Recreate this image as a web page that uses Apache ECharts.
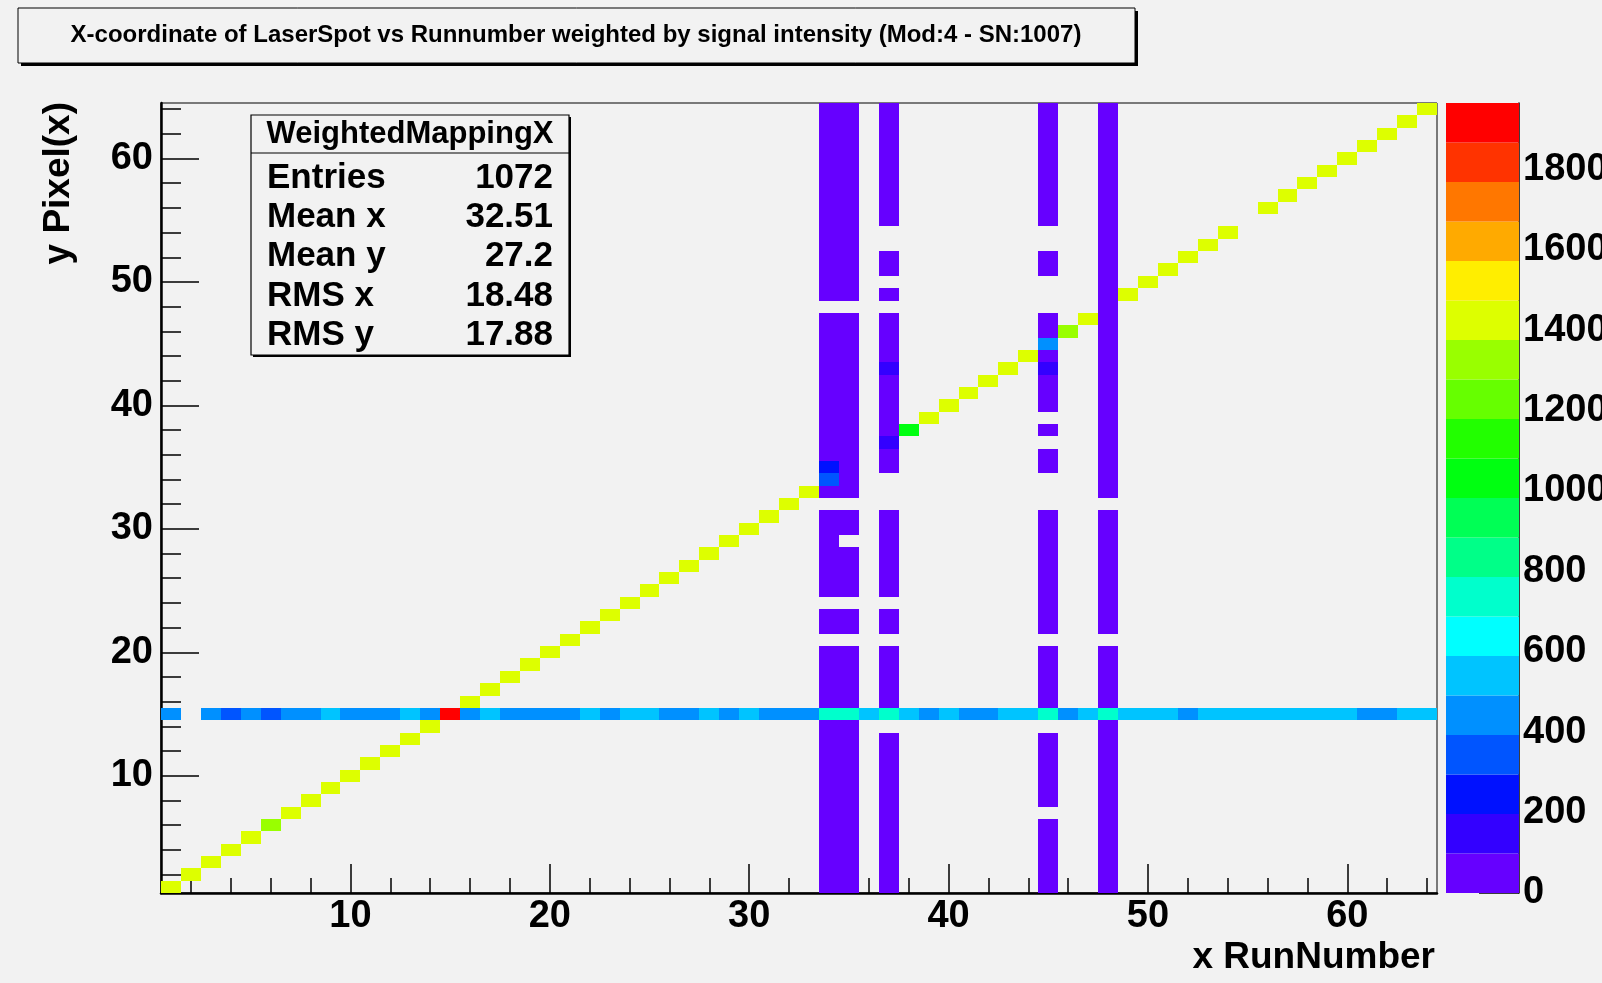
<!DOCTYPE html>
<html><head><meta charset="utf-8">
<script src="https://cdn.jsdelivr.net/npm/echarts@6/dist/echarts.min.js"></script>
<style>html,body{margin:0;padding:0;background:#f2f2f2;}#c{width:1602px;height:983px;}</style>
</head><body><div id="c"></div>
<script>
// ---- data ----
const xCategories = Array.from({length: 64}, (_, i) => String(i + 1)); // bin centres 1..64
const yCategories = Array.from({length: 64}, (_, i) => String(i + 1));
const xMajorTicks = [10, 20, 30, 40, 50, 60];
const yMajorTicks = [10, 20, 30, 40, 50, 60];
const zTicks = [0, 200, 400, 600, 800, 1000, 1200, 1400, 1600, 1800];
const zMax = 1965;

// diagonal cells (x = y), value per x = 1..64 (0 = empty / handled by columns)
const diagonal = [
  1420,1420,1420,1420,1420,1330,1420,1420,1420,1420,1420,1420,1420,1420,1960,1420,
  1420,1420,1420,1420,1420,1420,1420,1420,1420,1420,1420,1420,1420,1420,1420,1420,
  1420,0,0,0,0,1030,1420,1420,1420,1420,1420,1420,0,1330,1420,0,
  1420,1420,1420,1420,1420,1420,0,1420,1420,1420,1420,1420,1420,1420,1420,1420
];
// horizontal line at y = 15, value per x = 1..64
const row15 = [
  440,0,440,340,440,340,440,440,540,440,440,440,540,440,1960,440,
  540,440,440,440,440,540,440,540,540,440,440,540,440,540,440,440,
  440,730,730,540,730,540,440,540,440,440,540,540,730,440,540,730,
  540,540,540,440,540,540,540,540,540,540,540,540,440,440,540,540
];
// vertical columns, value per y = 1..64 (0 = empty)
const col34 = [
  40,40,40,40,40,40,40,40,40,40,40,40,40,40,730,40,
  40,40,40,40,0,40,40,0,40,40,40,40,40,40,40,0,
  40,340,200,40,40,40,40,40,40,40,40,40,40,40,40,0,
  40,40,40,40,40,40,40,40,40,40,40,40,40,40,40,40
];
const col35 = [
  40,40,40,40,40,40,40,40,40,40,40,40,40,40,730,40,
  40,40,40,40,0,40,40,0,40,40,40,40,0,40,40,0,
  40,40,40,40,40,40,40,40,40,40,40,40,40,40,40,0,
  40,40,40,40,40,40,40,40,40,40,40,40,40,40,40,40
];
const col37 = [
  40,40,40,40,40,40,40,40,40,40,40,40,40,0,730,40,
  40,40,40,40,0,40,40,0,40,40,40,40,40,40,40,0,
  0,0,40,40,150,40,40,40,40,40,150,40,40,40,40,0,
  40,0,40,40,0,0,40,40,40,40,40,40,40,40,40,40
];
const col45 = [
  40,40,40,40,40,40,0,40,40,40,40,40,40,0,730,40,
  40,40,40,40,0,40,40,40,40,40,40,40,40,40,40,0,
  0,0,40,40,0,40,0,40,40,40,150,40,440,40,40,0,
  0,0,40,40,0,0,40,40,40,40,40,40,40,40,40,40
];
const col48 = [
  40,40,40,40,40,40,40,40,40,40,40,40,40,40,730,40,
  40,40,40,40,0,40,40,40,40,40,40,40,40,40,40,0,
  40,40,40,40,40,40,40,40,40,40,40,40,40,40,40,40,
  40,40,40,40,40,40,40,40,40,40,40,40,40,40,40,40
];
const columns = {34: col34, 35: col35, 37: col37, 45: col45, 48: col48};

const statsTitle = 'WeightedMappingX';
const statsLabels = ['Entries', 'Mean x', 'Mean y', 'RMS x', 'RMS y'];
const statsValues = ['1072', '32.51', '27.2', '18.48', '17.88'];
const chartTitle = 'X-coordinate of LaserSpot vs Runnumber weighted by signal intensity (Mod:4 - SN:1007)';
const xTitle = 'x RunNumber';
const yTitle = 'y Pixel(x)';

// ---- style ----
const palette = ['#6600ff','#3300ff','#0011ff','#0055ff','#0090ff','#00c4ff','#00ffff','#00ffcc','#00ff88','#00ff55',
                 '#00ff11','#22ff00','#66ff00','#99ff00','#ddff00','#ffee00','#ffaa00','#ff7700','#ff3300','#ff0000'];
const FONT = "'Liberation Sans', Arial, Helvetica, sans-serif";
const BG = '#f2f2f2';

// ---- build cells ----
const cells = {};
diagonal.forEach((v, i) => { if (v > 0) cells[(i + 1) + ',' + (i + 1)] = v; });
row15.forEach((v, i) => { if (v > 0) cells[(i + 1) + ',15'] = v; });
Object.keys(columns).forEach(x => {
  columns[x].forEach((v, j) => {
    const k = x + ',' + (j + 1);
    if (v > 0) cells[k] = v; else delete cells[k];
  });
});
const heatData = Object.keys(cells).map(k => {
  const [x, y] = k.split(',').map(Number);
  return [x - 1, y - 1, cells[k]];
});

const step = zMax / palette.length;
const pieces = palette.map((c, i) => (i === palette.length - 1)
  ? {gte: i * step, lte: zMax + 1, color: c}
  : {gte: i * step, lt: (i + 1) * step, color: c});
const bands = palette.map((c, i) => [0, i * step, (i + 1) * step]);

const tickStyle = {color: '#000', width: 1.5};
const labelStyle = {color: '#000', fontSize: 38, fontWeight: 'bold', fontFamily: FONT};

const chart = echarts.init(document.getElementById('c'), null, {renderer: 'canvas'});
chart.setOption({
  backgroundColor: BG,
  animation: false,
  grid: [
    {left: 161, top: 103, width: 1276, height: 790, show: true, borderColor: '#000', borderWidth: 1,
     backgroundColor: 'transparent', outerBoundsMode: 'none', containLabel: false},
    {left: 1446, top: 103, width: 73, height: 790, show: false, outerBoundsMode: 'none', containLabel: false}
  ],
  xAxis: [
    {type: 'category', gridIndex: 0, data: xCategories, position: 'bottom', boundaryGap: true,
     axisLine: {show: true, onZero: false, lineStyle: {color: '#000', width: 2.5}},
     axisTick: {show: true, inside: true, length: 29, alignWithLabel: true, lineStyle: tickStyle,
                interval: (i) => xMajorTicks.includes(i + 1)},
     axisLabel: Object.assign({margin: 5, interval: (i) => xMajorTicks.includes(i + 1)}, labelStyle),
     splitLine: {show: false}},
    {type: 'category', gridIndex: 0, data: xCategories, position: 'bottom', boundaryGap: true,
     axisLine: {show: false, onZero: false},
     axisTick: {show: true, inside: true, length: 15, alignWithLabel: true, lineStyle: tickStyle,
                interval: (i) => (i + 1) % 2 === 0},
     axisLabel: {show: false}, splitLine: {show: false}},
    {type: 'value', gridIndex: 1, min: 0, max: 1, show: false}
  ],
  yAxis: [
    {type: 'category', gridIndex: 0, data: yCategories, position: 'left', boundaryGap: true,
     axisLine: {show: true, onZero: false, lineStyle: {color: '#000', width: 2.5}},
     axisTick: {show: true, inside: true, length: 38, alignWithLabel: true, lineStyle: tickStyle,
                interval: (i) => yMajorTicks.includes(i + 1)},
     axisLabel: Object.assign({margin: 8, interval: (i) => yMajorTicks.includes(i + 1)}, labelStyle),
     splitLine: {show: false}},
    {type: 'category', gridIndex: 0, data: yCategories, position: 'left', boundaryGap: true,
     axisLine: {show: false, onZero: false},
     axisTick: {show: true, inside: true, length: 20, alignWithLabel: true, lineStyle: tickStyle,
                interval: (i) => (i + 1) % 2 === 0},
     axisLabel: {show: false}, splitLine: {show: false}},
    {type: 'value', gridIndex: 1, min: 0, max: zMax, position: 'right',
     axisLine: {show: true, onZero: false, lineStyle: {color: '#000', width: 1.5}},
     axisTick: {show: true, inside: true, length: 40, customValues: zTicks, lineStyle: tickStyle},
     axisLabel: Object.assign({margin: 4, customValues: zTicks, formatter: (v) => String(v),
                               hideOverlap: false}, labelStyle),
     splitLine: {show: false}}
  ],
  visualMap: {type: 'piecewise', show: false, seriesIndex: 0, dimension: 2, pieces: pieces},
  series: [
    {type: 'custom', xAxisIndex: 0, yAxisIndex: 0, data: heatData, silent: true,
     encode: {x: 0, y: 1},
     renderItem: (params, api) => {
       const c = api.coord([api.value(0), api.value(1)]);
       const s = api.size([1, 1]);
       const x0 = Math.round(c[0] - s[0] / 2), x1 = Math.round(c[0] + s[0] / 2);
       const y0 = Math.round(c[1] - s[1] / 2), y1 = Math.round(c[1] + s[1] / 2);
       return {type: 'rect', shape: {x: x0, y: y0, width: x1 - x0, height: y1 - y0},
               style: {fill: api.visual('color')}};
     }},
    {type: 'custom', xAxisIndex: 2, yAxisIndex: 2, data: bands, silent: true,
     encode: {x: 0, y: [1, 2]},
     renderItem: (params, api) => {
       const p1 = api.coord([0, api.value(2)]);
       const p2 = api.coord([1, api.value(1)]);
       return {type: 'rect', shape: {x: p1[0], y: p1[1], width: p2[0] - p1[0], height: p2[1] - p1[1]},
               style: {fill: palette[params.dataIndex]}};
     }}
  ],
  graphic: [
    // title pave with shadow
    {type: 'rect', shape: {x: 21, y: 11, width: 1117, height: 55}, style: {fill: '#000'}, silent: true},
    {type: 'rect', shape: {x: 18, y: 8, width: 1117, height: 55}, style: {fill: BG, stroke: '#000', lineWidth: 1}, silent: true},
    {type: 'text', x: 576, y: 35.5, silent: true,
     style: {text: chartTitle, fill: '#000', font: 'bold 24px ' + FONT, textAlign: 'center', textVerticalAlign: 'middle'}},
    // stats box
    {type: 'rect', shape: {x: 253, y: 117, width: 318, height: 240}, style: {fill: '#000'}, silent: true},
    {type: 'rect', shape: {x: 251, y: 115, width: 318, height: 240}, style: {fill: BG, stroke: '#000', lineWidth: 1.2}, silent: true},
    {type: 'line', shape: {x1: 251, y1: 153, x2: 569, y2: 153}, style: {stroke: '#000', lineWidth: 1.2}, silent: true},
    {type: 'text', x: 410, y: 134.5, silent: true,
     style: {text: statsTitle, fill: '#000', font: 'bold 31px ' + FONT, textAlign: 'center', textVerticalAlign: 'middle'}},
    ...statsLabels.map((t, i) => ({type: 'text', x: 267, y: 178 + i * 39.3, silent: true,
      style: {text: t, fill: '#000', font: 'bold 35px ' + FONT, textAlign: 'left', textVerticalAlign: 'middle'}})),
    ...statsValues.map((t, i) => ({type: 'text', x: 553, y: 178 + i * 39.3, silent: true,
      style: {text: t, fill: '#000', font: 'bold 35px ' + FONT, textAlign: 'right', textVerticalAlign: 'middle'}})),
    // axis titles
    {type: 'text', x: 1435, y: 958, silent: true,
     style: {text: xTitle, fill: '#000', font: 'bold 37px ' + FONT, textAlign: 'right', textVerticalAlign: 'middle'}},
    {type: 'text', x: 59, y: 102, rotation: Math.PI / 2, silent: true,
     style: {text: yTitle, fill: '#000', font: 'bold 37px ' + FONT, textAlign: 'right', textVerticalAlign: 'middle'}}
  ]
});
</script></body></html>
